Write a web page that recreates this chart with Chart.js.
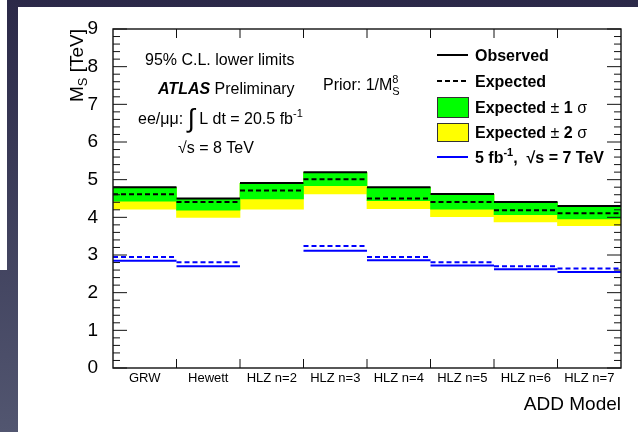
<!DOCTYPE html>
<html>
<head>
<meta charset="utf-8">
<script src="https://cdn.jsdelivr.net/npm/chart.js@4.4.1/dist/chart.umd.min.js"></script>
<style>
  html, body { margin: 0; padding: 0; overflow: hidden; background: #2d2c4c; }
  #wrap { position: relative; width: 638px; height: 432px; }
</style>
</head>
<body>
<div id="wrap"><canvas id="limits" width="638" height="432"></canvas></div>
<script>
// ADD model lower limits on M_S, 8 TeV result with the 7 TeV result overlaid
const models = ['GRW', 'Hewett', 'HLZ n=2', 'HLZ n=3', 'HLZ n=4', 'HLZ n=5', 'HLZ n=6', 'HLZ n=7'];
const observed = [4.80, 4.50, 4.91, 5.20, 4.80, 4.62, 4.41, 4.30];
const expected = [4.61, 4.41, 4.71, 5.01, 4.50, 4.41, 4.19, 4.11];
const oneSigmaLow = [4.43, 4.19, 4.49, 4.84, 4.44, 4.22, 4.07, 3.96];
const oneSigmaHigh = [4.79, 4.49, 4.90, 5.19, 4.79, 4.61, 4.40, 4.29];
const twoSigmaLow = [4.22, 4.00, 4.22, 4.62, 4.23, 4.02, 3.88, 3.78];
const twoSigmaHigh = [4.79, 4.49, 4.90, 5.19, 4.79, 4.61, 4.40, 4.29];
// 5 fb-1 at 7 TeV (no HLZ n=2 entry)
const observed7 = [2.85, 2.70, null, 3.11, 2.86, 2.72, 2.62, 2.55];
const expected7 = [2.95, 2.81, null, 3.24, 2.95, 2.81, 2.70, 2.64];
const yTicks = [0, 1, 2, 3, 4, 5, 6, 7, 8, 9];

const FONT = '"Liberation Sans", Arial, Helvetica, sans-serif';

// one flat segment per model bin, with a gap between bins
function steps(vals) {
  const pts = [];
  vals.forEach((v, i) => {
    if (v == null) return;
    pts.push({x: i, y: v}, {x: i + 1, y: v}, {x: i + 1, y: null});
  });
  return pts;
}

function band(lo, hi) {
  return lo.map((v, i) => [v, hi[i]]);
}

function lineSet(label, vals, color, dash) {
  return {
    type: 'line', label: label, data: steps(vals), xAxisID: 'xl',
    borderColor: color, borderWidth: 2, borderDash: dash || [],
    pointRadius: 0, fill: false, tension: 0, spanGaps: false, order: 0
  };
}

function runs(ctx, x, y, parts) {
  parts.forEach(p => {
    ctx.font = p.font;
    ctx.fillText(p.t, x, y + (p.dy || 0));
    x += p.adv === 0 ? 0 : ctx.measureText(p.t).width;
  });
  return x;
}

const page = {
  id: 'page',
  beforeDraw(chart) {
    const ctx = chart.ctx;
    const g = ctx.createLinearGradient(0, 0, 0, 432);
    g.addColorStop(0, '#2b2948');
    g.addColorStop(1, '#525670');
    ctx.save();
    ctx.fillStyle = g;
    ctx.fillRect(0, 0, 638, 432);
    ctx.fillStyle = '#ffffff';
    ctx.fillRect(18, 7, 620, 425);
    ctx.fillRect(0, 0, 7, 270);
    ctx.restore();
  }
};

const frame = {
  id: 'frame',
  afterDatasetsDraw(chart) {
    const ctx = chart.ctx;
    const {left, right, top, bottom} = chart.chartArea;
    const y = chart.scales.y, xl = chart.scales.xl;
    ctx.save();
    ctx.strokeStyle = '#111';
    ctx.lineWidth = 1;
    ctx.beginPath();
    for (let k = 0; k <= 45; k++) {
      const v = k / 5;
      const py = y.getPixelForValue(v);
      const len = k % 5 === 0 ? 14 : 7;
      ctx.moveTo(left, py); ctx.lineTo(left + len, py);
      ctx.moveTo(right, py); ctx.lineTo(right - len, py);
    }
    for (let i = 1; i < models.length; i++) {
      const px = xl.getPixelForValue(i);
      ctx.moveTo(px, bottom); ctx.lineTo(px, bottom - 9);
      ctx.moveTo(px, top); ctx.lineTo(px, top + 9);
    }
    ctx.stroke();
    ctx.lineWidth = 1.4;
    ctx.strokeRect(left, top, right - left, bottom - top);
    ctx.restore();
  },
  afterDraw(chart) {
    const ctx = chart.ctx;
    const reg = '16px ' + FONT, bold = 'bold 16px ' + FONT;
    const small = '11px ' + FONT, smallBold = 'bold 11px ' + FONT;
    ctx.save();
    ctx.fillStyle = '#000';
    ctx.textAlign = 'left';
    ctx.textBaseline = 'alphabetic';

    // axis titles
    ctx.save();
    ctx.translate(83, 29);
    ctx.rotate(-Math.PI / 2);
    ctx.font = '19px ' + FONT;
    const parts = [{t: 'M', font: '19px ' + FONT}, {t: 'S', font: '13px ' + FONT, dy: 4}, {t: ' [TeV]', font: '19px ' + FONT}];
    let w = 0;
    parts.forEach(p => { ctx.font = p.font; w += ctx.measureText(p.t).width; });
    runs(ctx, -w, 0, parts);
    ctx.restore();

    ctx.font = '19px ' + FONT;
    ctx.textAlign = 'right';
    ctx.fillText('ADD Model', chart.chartArea.right, 410);
    ctx.textAlign = 'left';

    // labels inside the frame
    runs(ctx, 145, 65, [{t: '95% C.L. lower limits', font: reg}]);
    runs(ctx, 158, 93.5, [{t: 'ATLAS', font: 'italic bold 16px ' + FONT}, {t: ' Preliminary', font: reg}]);
    runs(ctx, 138, 123.5, [
      {t: 'ee/\u03bc\u03bc: ', font: reg},
      {t: '\u222b', font: '26px ' + FONT, dy: 3},
      {t: ' L dt = 20.5 fb', font: reg},
      {t: '-1', font: small, dy: -7}
    ]);
    runs(ctx, 178, 153, [{t: '\u221as = 8 TeV', font: reg}]);
    runs(ctx, 323, 89.5, [
      {t: 'Prior: 1/M', font: reg},
      {t: 'S', font: small, dy: 5, adv: 0},
      {t: '8', font: small, dy: -7}
    ]);

    // legend
    const lx0 = 437, lx1 = 468, tx = 475;
    const rows = [55, 81, 107, 132, 157];
    ctx.lineWidth = 2;
    ctx.strokeStyle = '#000';
    ctx.beginPath(); ctx.moveTo(lx0, rows[0]); ctx.lineTo(lx1, rows[0]); ctx.stroke();
    ctx.setLineDash([5, 3]);
    ctx.beginPath(); ctx.moveTo(lx0, rows[1]); ctx.lineTo(lx1, rows[1]); ctx.stroke();
    ctx.setLineDash([]);
    ctx.lineWidth = 1;
    ctx.strokeStyle = '#333';
    ctx.fillStyle = '#00ff00';
    ctx.fillRect(lx0, 97, lx1 - lx0, 20); ctx.strokeRect(lx0 + 0.5, 97.5, lx1 - lx0, 20);
    ctx.fillStyle = '#ffff00';
    ctx.fillRect(lx0, 123, lx1 - lx0, 18); ctx.strokeRect(lx0 + 0.5, 123.5, lx1 - lx0, 18);
    ctx.lineWidth = 2;
    ctx.strokeStyle = '#0000ff';
    ctx.beginPath(); ctx.moveTo(lx0, rows[4]); ctx.lineTo(lx1, rows[4]); ctx.stroke();

    ctx.fillStyle = '#000';
    runs(ctx, tx, rows[0] + 6, [{t: 'Observed', font: bold}]);
    runs(ctx, tx, rows[1] + 6, [{t: 'Expected', font: bold}]);
    runs(ctx, tx, rows[2] + 6, [{t: 'Expected ', font: bold}, {t: '\u00b1', font: reg}, {t: ' 1 ', font: bold}, {t: '\u03c3', font: reg}]);
    runs(ctx, tx, rows[3] + 6, [{t: 'Expected ', font: bold}, {t: '\u00b1', font: reg}, {t: ' 2 ', font: bold}, {t: '\u03c3', font: reg}]);
    runs(ctx, tx, rows[4] + 6, [{t: '5 fb', font: bold}, {t: '-1', font: smallBold, dy: -7}, {t: ',  \u221as = 7 TeV', font: bold}]);
    ctx.restore();
  }
};

new Chart(document.getElementById('limits'), {
  type: 'bar',
  data: {
    labels: models,
    datasets: [
      lineSet('Observed', observed, '#000000'),
      lineSet('Expected', expected, '#000000', [5, 3]),
      lineSet('5 fb-1, 7 TeV observed', observed7, '#0000ff'),
      lineSet('5 fb-1, 7 TeV expected', expected7, '#0000ff', [5, 3]),
      {
        label: 'Expected \u00b1 1 \u03c3', data: band(oneSigmaLow, oneSigmaHigh),
        backgroundColor: '#00ff00', borderWidth: 0, grouped: false,
        barPercentage: 1, categoryPercentage: 1, order: 1
      },
      {
        label: 'Expected \u00b1 2 \u03c3', data: band(twoSigmaLow, twoSigmaHigh),
        backgroundColor: '#ffff00', borderWidth: 0, grouped: false,
        barPercentage: 1, categoryPercentage: 1, order: 2
      }
    ]
  },
  options: {
    responsive: false,
    animation: false,
    layout: { padding: { top: 29, right: 17, left: 0, bottom: 0 } },
    plugins: { legend: { display: false }, tooltip: { enabled: false } },
    scales: {
      x: {
        grid: { display: false, drawTicks: false },
        border: { display: false },
        ticks: { color: '#000', font: { family: FONT, size: 13 }, padding: 3, maxRotation: 0, autoSkip: false },
        afterFit(scale) { scale.height = 64; }
      },
      xl: {
        type: 'linear', display: false, min: 0, max: models.length, offset: false,
        grid: { offset: false }
      },
      y: {
        min: 0, max: 9,
        grid: { display: false, drawTicks: false },
        border: { display: false },
        afterBuildTicks(scale) { scale.ticks = yTicks.map(v => ({value: v})); },
        ticks: { color: '#000', font: { family: FONT, size: 19 }, padding: 15 },
        afterFit(scale) { scale.width = 113; }
      }
    }
  },
  plugins: [page, frame]
});
</script>
</body>
</html>
